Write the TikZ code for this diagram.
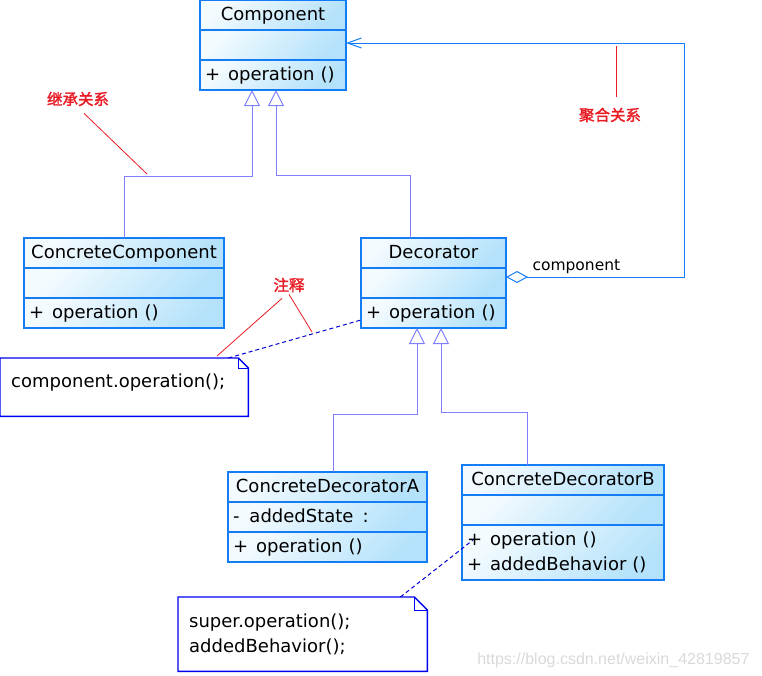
\documentclass[tikz,border=0pt]{standalone}
\usepackage{fontspec}
\setmainfont{DejaVu Sans}
\newfontfamily\cjk{Noto Sans CJK SC}[AutoFakeBold=2]
\newfontfamily\wmfont{Liberation Sans}
\usetikzlibrary{arrows.meta,positioning}

\definecolor{clsline}{RGB}{20,125,245}
\definecolor{clslight}{RGB}{244,251,255}
\definecolor{clsdark}{RGB}{180,226,250}
\definecolor{inhline}{RGB}{128,128,255}
\definecolor{noteline}{RGB}{0,0,240}
\definecolor{linkline}{RGB}{0,0,210}
\definecolor{remarkred}{RGB}{232,28,36}

\newcommand\pub[1]{+\hspace{8pt}#1}
\newcommand\pvt[1]{-\hspace{10pt}#1}

\tikzset{
  umlpart/.style={draw=clsline, line width=1.2pt, top color=clslight, bottom color=clsdark, shading angle=45,
    inner xsep=5pt, inner ysep=0pt, outer sep=0pt, text height=20.5pt, text depth=9.5pt,
    minimum width=#1, text width=#1-10pt, align=left},
  umltitle/.style={umlpart=#1, align=center},
  inherit/.style={draw=inhline, line width=1pt, -{Triangle[open, length=16pt, width=16pt]}},
  aggr/.style={draw=clsline, line width=1pt, {Diamond[open, length=22pt, width=12pt]}-{Straight Barb[length=14pt, width=10pt]}},
  notebox/.style={anchor=north west, inner xsep=11pt, inner ysep=0pt, align=left},
  noteline/.style={draw=noteline, line width=1.4pt},
  notelink/.style={draw=linkline, line width=1pt, dash pattern=on 4pt off 3pt},
  remark/.style={draw=remarkred, line width=0.8pt},
  remarktext/.style={text=remarkred, inner sep=2pt, font=\cjk\bfseries\fontsize{15.5}{18}\selectfont},
}

\begin{document}
\begin{tikzpicture}[x=1pt,y=-1pt,font=\fontsize{18}{25}\selectfont]
\useasboundingbox (0,0) rectangle (762,675);

% classes
\node (comp) at (200,0) [umltitle=146pt, anchor=north west] {Component};
\node (comp-a) [umlpart=146pt, below=0pt of comp] {};
\node (comp-o) [umlpart=146pt, below=0pt of comp-a] {\pub{operation ()}};

\node (ccomp) at (24,238) [umltitle=200pt, anchor=north west] {ConcreteComponent};
\node (ccomp-a) [umlpart=200pt, below=0pt of ccomp] {};
\node (ccomp-o) [umlpart=200pt, below=0pt of ccomp-a] {\pub{operation ()}};

\node (deco) at (361,238) [umltitle=145pt, anchor=north west] {Decorator};
\node (deco-a) [umlpart=145pt, below=0pt of deco] {};
\node (deco-o) [umlpart=145pt, below=0pt of deco-a] {\pub{operation ()}};

\node (cda) at (228,472) [umltitle=199pt, anchor=north west] {ConcreteDecoratorA};
\node (cda-a) [umlpart=199pt, below=0pt of cda] {\pvt{addedState\hspace{9pt}:}};
\node (cda-o) [umlpart=199pt, below=0pt of cda-a] {\pub{operation ()}};

\node (cdb) at (462,465) [umltitle=202pt, anchor=north west] {ConcreteDecoratorB};
\node (cdb-a) [umlpart=202pt, below=0pt of cdb] {};
\node (cdb-o) [umlpart=202pt, below=0pt of cdb-a, text depth=34.5pt] {\pub{operation ()}\\\pub{addedBehavior ()}};

% notes
\node (note1) at (0,358) [notebox, minimum width=248pt, minimum height=58pt, text width=226pt,
  text height=29pt, text depth=29pt] {component.operation();};
\node (note2) at (178,597) [notebox, minimum width=249pt, minimum height=74pt, text width=227pt,
  text height=30pt, text depth=44pt] {super.operation();\\addedBehavior();};
\foreach \n/\f in {note1/10pt, note2/13pt} {
  \draw[noteline] (\n.north west) -- ([xshift=-\f]\n.north east) -- ([yshift=-\f]\n.north east)
    -- (\n.south east) -- (\n.south west) -- cycle;
  \draw[draw=noteline, line width=1pt] ([xshift=-\f]\n.north east) |- ([yshift=-\f]\n.north east);
}

% connectors
\draw[inherit] (ccomp.north) -- ++(0,-62) -| ([xshift=-21pt]comp-o.south);
\draw[inherit] ([xshift=-23.5pt]deco.north) -- ++(0,-63) -| ([xshift=3pt]comp-o.south);
\draw[inherit] ([xshift=5.5pt]cda.north) -- ++(0,-58) -| ([xshift=-16.5pt]deco-o.south);
\draw[inherit] ([xshift=-36pt]cdb.north) -- ++(0,-53) -| ([xshift=7.5pt]deco-o.south);
\draw[aggr] ([yshift=6pt]deco-a.east) -- ++(178,0) |- ([yshift=2pt]comp-a.east);
\node (role) at (529,270) [anchor=base west, font=\fontsize{15.5}{18}\selectfont] {component};

\draw[notelink] ([xshift=-20pt]note1.north east) -- ([yshift=-7pt]deco-o.west);
\draw[notelink] ([xshift=-27pt]note2.north east) -- ([shift={(11,15)}]cdb-o.north west);

% remarks
\node (inhlbl) at (78,99) [remarktext] {继承关系};
\coordinate (inhpt) at (147,174);
\draw[remark] ([shift={(6,5)}]inhlbl.south) -- (inhpt);

\node (aggrlbl) at (610,115) [remarktext] {聚合关系};
\coordinate (aggrpt) at (616,46);
\draw[remark] ([shift={(6,-9)}]aggrlbl.north) -- (aggrpt);

\node (notelbl) at (289,285) [remarktext] {注释};
\coordinate (notept) at (217,356);
\coordinate (linkpt) at (312,332);
\draw[remark] ([shift={(-7,4)}]notelbl.south) -- (notept);
\draw[remark] (notelbl.south) -- (linkpt);

\node (mark) at (753,664) [anchor=base east, text=gray!30, font=\wmfont\fontsize{16}{18}\selectfont] {https://blog.csdn.net/weixin\_42819857};
\end{tikzpicture}
\end{document}
